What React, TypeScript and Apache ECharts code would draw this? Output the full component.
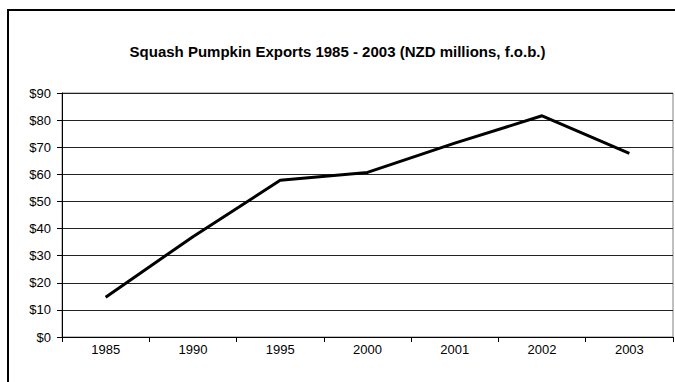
import React, { useEffect, useRef } from "react";
import * as echarts from "echarts";

const categories = ["1985", "1990", "1995", "2000", "2001", "2002", "2003"];
const exportsNZD = [14.7, 37, 57.8, 60.7, 71.5, 81.6, 67.7];
const yTicks = [0, 10, 20, 30, 40, 50, 60, 70, 80, 90];
const titleText = "Squash Pumpkin Exports 1985 - 2003 (NZD millions, f.o.b.)";

const FONT = "'Liberation Sans', Arial, sans-serif";

export default function App() {
  const ref = useRef<HTMLDivElement>(null);
  useEffect(() => {
    document.body.style.margin = "0";
    const chart = echarts.init(ref.current!, null, { renderer: "svg" });
    chart.setOption({
      animation: false,
      backgroundColor: "#fff",
      title: {
        text: titleText,
        left: "center",
        top: 39,
        textStyle: { fontFamily: FONT, fontSize: 15, fontWeight: "bold", color: "#000" },
      },
      graphic: [
        {
          type: "rect",
          shape: { x: 8, y: 10, width: 720, height: 420 },
          style: { fill: "none", stroke: "#000", lineWidth: 2 },
          silent: true,
          z: -1,
        },
      ],
      grid: {
        left: 62,
        top: 93,
        width: 611,
        height: 244,
        show: true,
        borderColor: "#808080",
        borderWidth: 1,
        backgroundColor: "transparent",
      },
      xAxis: {
        type: "category",
        data: categories,
        boundaryGap: true,
        axisLine: { show: true, lineStyle: { color: "#000", width: 1 } },
        axisTick: { show: true, length: 5, inside: false, lineStyle: { color: "#000" } },
        axisLabel: { fontFamily: FONT, fontSize: 13, color: "#000", margin: 6 },
        splitLine: { show: false },
      },
      yAxis: {
        type: "value",
        min: yTicks[0],
        max: yTicks[yTicks.length - 1],
        interval: 10,
        axisLine: { show: true, lineStyle: { color: "#000", width: 1 } },
        axisTick: { show: true, length: 5, lineStyle: { color: "#000" } },
        axisLabel: {
          fontFamily: FONT,
          fontSize: 13,
          color: "#000",
          margin: 11,
          formatter: (v: number) => "$" + v,
        },
        splitLine: { show: true, lineStyle: { color: "#222", width: 1 } },
      },
      series: [
        {
          type: "line",
          data: exportsNZD,
          showSymbol: false,
          symbol: "none",
          lineStyle: { color: "#000", width: 3 },
          itemStyle: { color: "#000" },
        },
      ],
    });
    return () => chart.dispose();
  }, []);
  return <div ref={ref} style={{ width: 675, height: 382 }} />;
}
